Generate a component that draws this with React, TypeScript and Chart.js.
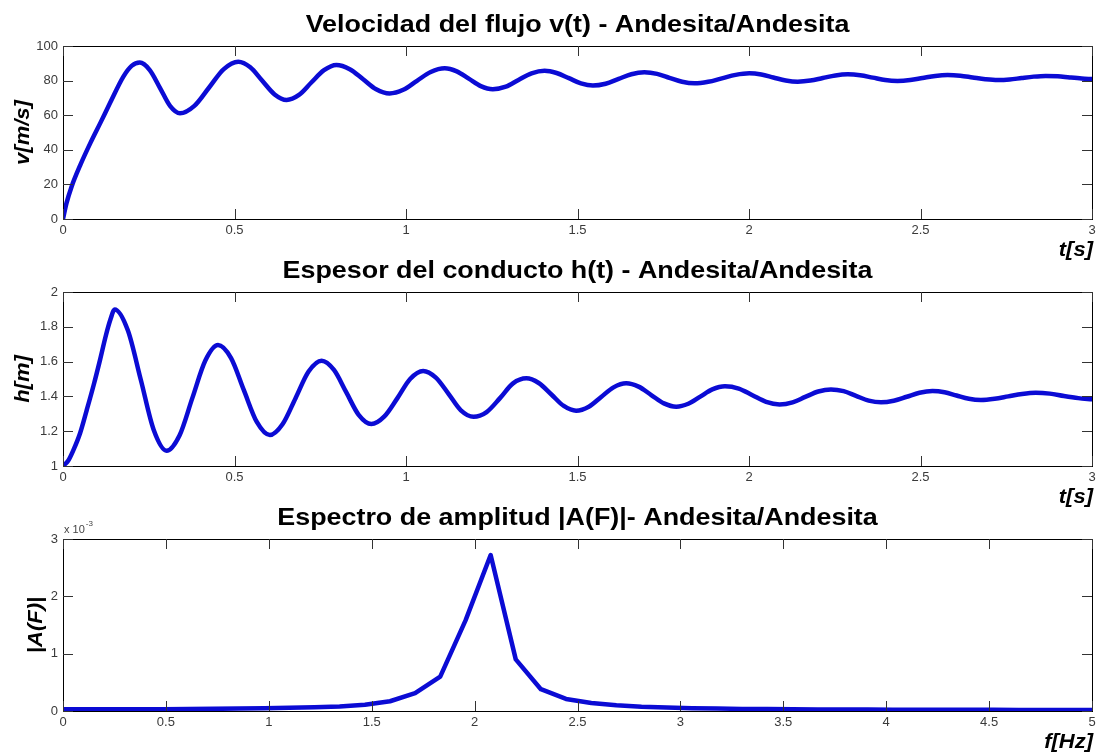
import React, { useEffect, useRef } from "react";
import { Chart, registerables } from "chart.js";

Chart.register(...registerables);

// ---------- data ----------
const tVel = [0, 0.01, 0.025, 0.05, 0.08, 0.11, 0.137, 0.176, 0.2, 0.224, 0.253, 0.283, 0.312, 0.341, 0.383, 0.426, 0.468, 0.511, 0.546, 0.581, 0.617, 0.652, 0.688, 0.724, 0.761, 0.797, 0.836, 0.875, 0.913, 0.952, 0.992, 1.032, 1.072, 1.113, 1.148, 1.183, 1.218, 1.253, 1.291, 1.328, 1.366, 1.404, 1.439, 1.475, 1.51, 1.545, 1.582, 1.62, 1.657, 1.695, 1.732, 1.768, 1.805, 1.841, 1.881, 1.921, 1.961, 2.001, 2.036, 2.071, 2.107, 2.142, 2.179, 2.215, 2.252, 2.288, 2.324, 2.361, 2.397, 2.433, 2.47, 2.506, 2.543, 2.579, 2.616, 2.652, 2.689, 2.725, 2.76, 2.795, 2.83, 2.865, 2.9, 2.935, 2.97, 3.0];
const vel = [0, 9, 18.7, 31, 44, 56, 67, 82.3, 88.5, 90.4, 86.1, 75.7, 65.4, 61.1, 65.4, 76, 86.5, 90.9, 87.7, 79.9, 72.0, 68.8, 71.7, 78.9, 86.0, 89.0, 86.6, 80.8, 75.0, 72.6, 74.7, 79.9, 85.0, 87.1, 85.3, 81.1, 76.8, 75.0, 76.5, 80.4, 84.2, 85.7, 84.4, 81.4, 78.4, 77.1, 78.2, 81.0, 83.7, 84.8, 83.9, 81.6, 79.3, 78.4, 79.3, 81.3, 83.3, 84.2, 83.5, 81.8, 80.1, 79.4, 80.0, 81.5, 83.0, 83.6, 83.1, 81.7, 80.3, 79.8, 80.3, 81.5, 82.7, 83.2, 82.8, 81.8, 80.8, 80.3, 80.6, 81.5, 82.3, 82.7, 82.5, 81.8, 81.2, 80.9];

const tEsp = [0, 0.015, 0.03, 0.05, 0.069, 0.09, 0.108, 0.125, 0.138, 0.151, 0.189, 0.227, 0.264, 0.302, 0.34, 0.377, 0.415, 0.452, 0.49, 0.527, 0.565, 0.603, 0.64, 0.678, 0.716, 0.754, 0.79, 0.826, 0.862, 0.899, 0.937, 0.975, 1.012, 1.05, 1.087, 1.124, 1.16, 1.197, 1.235, 1.274, 1.312, 1.351, 1.387, 1.424, 1.46, 1.496, 1.533, 1.569, 1.605, 1.642, 1.678, 1.715, 1.752, 1.788, 1.823, 1.858, 1.893, 1.93, 1.97, 2.01, 2.05, 2.089, 2.127, 2.164, 2.202, 2.239, 2.276, 2.312, 2.349, 2.385, 2.422, 2.46, 2.497, 2.535, 2.57, 2.605, 2.641, 2.676, 2.716, 2.756, 2.796, 2.836, 2.877, 2.918, 2.96, 3.0];
const esp = [1.0, 1.03, 1.09, 1.19, 1.32, 1.47, 1.61, 1.75, 1.84, 1.9, 1.78, 1.494, 1.21, 1.088, 1.177, 1.39, 1.606, 1.695, 1.62, 1.437, 1.253, 1.178, 1.24, 1.39, 1.543, 1.605, 1.552, 1.423, 1.294, 1.241, 1.285, 1.39, 1.5, 1.546, 1.508, 1.415, 1.32, 1.283, 1.31, 1.39, 1.475, 1.504, 1.477, 1.411, 1.345, 1.318, 1.341, 1.397, 1.452, 1.475, 1.456, 1.408, 1.36, 1.341, 1.358, 1.399, 1.44, 1.458, 1.445, 1.407, 1.369, 1.354, 1.366, 1.397, 1.428, 1.44, 1.43, 1.403, 1.376, 1.366, 1.375, 1.398, 1.421, 1.431, 1.424, 1.405, 1.386, 1.379, 1.386, 1.4, 1.414, 1.421, 1.416, 1.402, 1.39, 1.383];

const freq = [0, 0.122, 0.244, 0.367, 0.489, 0.611, 0.733, 0.856, 0.978, 1.1, 1.222, 1.344, 1.467, 1.589, 1.711, 1.833, 1.956, 2.078, 2.2, 2.322, 2.444, 2.567, 2.689, 2.811, 2.933, 3.056, 3.178, 3.3, 3.422, 3.544, 3.667, 3.789, 3.911, 4.033, 4.156, 4.278, 4.4, 4.522, 4.644, 4.767, 4.889, 5.011];
// amplitude in units of 1e-3
const ampE3 = [0.03, 0.03, 0.03, 0.03, 0.032, 0.035, 0.038, 0.042, 0.047, 0.055, 0.065, 0.08, 0.11, 0.17, 0.31, 0.6, 1.58, 2.72, 0.9, 0.38, 0.21, 0.14, 0.1, 0.075, 0.06, 0.05, 0.042, 0.037, 0.033, 0.03, 0.028, 0.026, 0.024, 0.023, 0.022, 0.021, 0.02, 0.02, 0.019, 0.019, 0.018, 0.018];

const tTicks = [0, 0.5, 1, 1.5, 2, 2.5, 3];
const fTicks = [0, 0.5, 1, 1.5, 2, 2.5, 3, 3.5, 4, 4.5, 5];
const velTicks = [0, 20, 40, 60, 80, 100];
const espTicks = [1, 1.2, 1.4, 1.6, 1.8, 2];
const ampTicks = [0, 1, 2, 3];

const titles = [
  "Velocidad del flujo v(t) - Andesita/Andesita",
  "Espesor del conducto h(t) - Andesita/Andesita",
  "Espectro de amplitud |A(F)|- Andesita/Andesita",
];

// ---------- drawing ----------
const W = 1103;
const H = 755;
const LEFT = 63;
const RIGHT = 1092;
const BLUE = "#0b0bd4";
const FONT = '"Liberation Sans", Arial, Helvetica, sans-serif';
const TICK_COLOR = "#3a3a3a";

type Cfg = {
  xs: number[];
  ys: number[];
  xMin: number;
  xMax: number;
  xTicks: number[];
  yMin: number;
  yMax: number;
  yTicks: number[];
  top: number;
  bottom: number;
  title: string;
  xLabel: string;
  yLabel: string;
  yLabelX: number;
  smooth: boolean;
  exponent?: boolean;
};

function fmt(v: number) {
  return String(+v.toFixed(2));
}

function makeDecor(cfg: Cfg) {
  return {
    id: "matlabDecor",
    afterDraw(chart: any) {
      const ctx = chart.ctx as CanvasRenderingContext2D;
      const { left, right, top, bottom } = chart.chartArea;
      const xs = chart.scales.x;
      const ys = chart.scales.y;
      ctx.save();
      // box
      ctx.strokeStyle = "#000";
      ctx.lineWidth = 1;
      ctx.strokeRect(Math.round(left) + 0.5, Math.round(top) + 0.5, Math.round(right - left), Math.round(bottom - top));
      // ticks inward on all sides
      ctx.strokeStyle = "#333";
      const TL = 10;
      ctx.beginPath();
      cfg.xTicks.forEach((v) => {
        const px = Math.round(xs.getPixelForValue(v)) + 0.5;
        ctx.moveTo(px, bottom);
        ctx.lineTo(px, bottom - TL);
        ctx.moveTo(px, top);
        ctx.lineTo(px, top + TL);
      });
      cfg.yTicks.forEach((v) => {
        const py = Math.round(ys.getPixelForValue(v)) + 0.5;
        ctx.moveTo(left, py);
        ctx.lineTo(left + TL, py);
        ctx.moveTo(right, py);
        ctx.lineTo(right - TL, py);
      });
      ctx.stroke();

      // title (slightly widened like the reference)
      ctx.fillStyle = "#000";
      ctx.save();
      ctx.translate((left + right) / 2, top - 14);
      ctx.scale(1.12, 1);
      ctx.font = `bold 24px ${FONT}`;
      ctx.textAlign = "center";
      ctx.textBaseline = "alphabetic";
      ctx.fillText(cfg.title, 0, 0);
      ctx.restore();

      // y label
      ctx.save();
      ctx.translate(cfg.yLabelX, (top + bottom) / 2);
      ctx.rotate(-Math.PI / 2);
      ctx.scale(1.1, 1);
      ctx.font = `italic bold 20px ${FONT}`;
      ctx.textAlign = "center";
      ctx.textBaseline = "middle";
      ctx.fillText(cfg.yLabel, 0, 0);
      ctx.restore();

      // x label
      ctx.save();
      ctx.translate(right + 1, bottom + 31);
      ctx.scale(1.1, 1);
      ctx.font = `italic bold 20px ${FONT}`;
      ctx.textAlign = "right";
      ctx.textBaseline = "middle";
      ctx.fillText(cfg.xLabel, 0, 0);
      ctx.restore();

      if (cfg.exponent) {
        ctx.fillStyle = "#444";
        ctx.textAlign = "left";
        ctx.textBaseline = "alphabetic";
        ctx.font = `11px ${FONT}`;
        const base = "x 10";
        ctx.fillText(base, left + 1, top - 6);
        const w = ctx.measureText(base).width;
        ctx.font = `8px ${FONT}`;
        ctx.fillText("-3", left + 2 + w, top - 13);
      }
      ctx.restore();
    },
  };
}

function makeChart(canvas: HTMLCanvasElement, cfg: Cfg) {
  const tickFont = { family: FONT, size: 13 };
  return new Chart(canvas, {
    type: "line",
    data: {
      datasets: [
        {
          data: cfg.xs.map((x, i) => ({ x, y: cfg.ys[i] })),
          borderColor: BLUE,
          borderWidth: 4.5,
          pointRadius: 0,
          fill: false,
          tension: 0,
          cubicInterpolationMode: cfg.smooth ? "monotone" : "default",
          borderJoinStyle: "round",
          borderCapStyle: "round",
        },
      ],
    },
    options: {
      animation: false,
      responsive: false,
      events: [],
      layout: { padding: { top: cfg.top, right: W - RIGHT, left: 0, bottom: 0 } },
      plugins: { legend: { display: false }, tooltip: { enabled: false }, title: { display: false } },
      scales: {
        x: {
          type: "linear",
          min: cfg.xMin,
          max: cfg.xMax,
          grid: { display: false, drawTicks: false },
          border: { display: false },
          afterBuildTicks: (s: any) => {
            s.ticks = cfg.xTicks.map((v) => ({ value: v }));
          },
          afterFit: (s: any) => {
            s.height = H - cfg.bottom;
          },
          ticks: {
            font: tickFont,
            color: TICK_COLOR,
            padding: 4,
            maxRotation: 0,
            autoSkip: false,
            callback: (v: any) => fmt(Number(v)),
          },
        },
        y: {
          type: "linear",
          min: cfg.yMin,
          max: cfg.yMax,
          grid: { display: false, drawTicks: false },
          border: { display: false },
          afterBuildTicks: (s: any) => {
            s.ticks = cfg.yTicks.map((v) => ({ value: v }));
          },
          afterFit: (s: any) => {
            s.width = LEFT;
          },
          ticks: {
            font: tickFont,
            color: TICK_COLOR,
            padding: 5,
            autoSkip: false,
            callback: (v: any) => fmt(Number(v)),
          },
        },
      },
    },
    plugins: [makeDecor(cfg)],
  } as any);
}

export default function App() {
  const r1 = useRef<HTMLCanvasElement>(null);
  const r2 = useRef<HTMLCanvasElement>(null);
  const r3 = useRef<HTMLCanvasElement>(null);

  useEffect(() => {
    const charts = [
      makeChart(r1.current!, {
        xs: tVel, ys: vel, xMin: 0, xMax: 3, xTicks: tTicks,
        yMin: 0, yMax: 100, yTicks: velTicks, top: 46, bottom: 219,
        title: titles[0], xLabel: "t[s]", yLabel: "v[m/s]", yLabelX: 23, smooth: true,
      }),
      makeChart(r2.current!, {
        xs: tEsp, ys: esp, xMin: 0, xMax: 3, xTicks: tTicks,
        yMin: 1, yMax: 2, yTicks: espTicks, top: 292, bottom: 466,
        title: titles[1], xLabel: "t[s]", yLabel: "h[m]", yLabelX: 23, smooth: true,
      }),
      makeChart(r3.current!, {
        xs: freq, ys: ampE3, xMin: 0, xMax: 5, xTicks: fTicks,
        yMin: 0, yMax: 3, yTicks: ampTicks, top: 539, bottom: 711,
        title: titles[2], xLabel: "f[Hz]", yLabel: "|A(F)|", yLabelX: 36, smooth: false, exponent: true,
      }),
    ];
    return () => charts.forEach((c) => c.destroy());
  }, []);

  const cs: React.CSSProperties = { position: "absolute", left: 0, top: 0, width: W, height: H };
  return (
    <div style={{ position: "fixed", left: 0, top: 0, width: W, height: H, background: "#fff" }}>
      <canvas ref={r1} width={W} height={H} style={cs} />
      <canvas ref={r2} width={W} height={H} style={cs} />
      <canvas ref={r3} width={W} height={H} style={cs} />
    </div>
  );
}
